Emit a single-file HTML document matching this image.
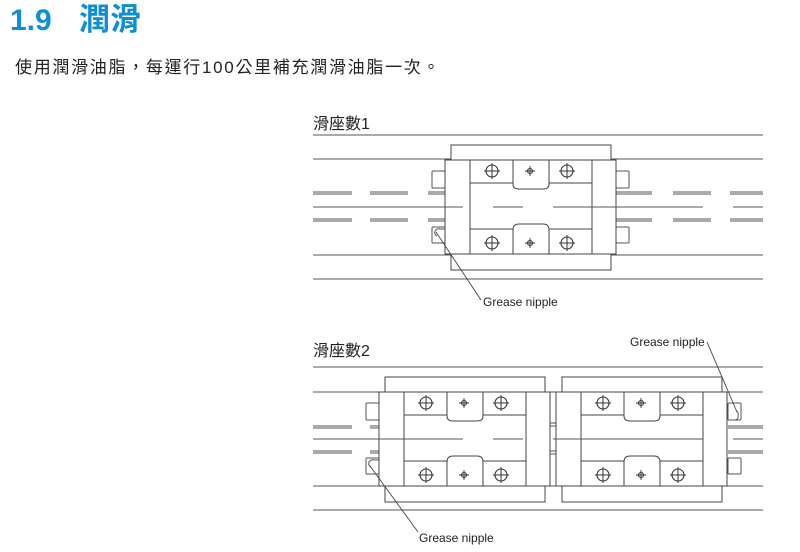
<!DOCTYPE html>
<html><head><meta charset="utf-8"><style>
html,body{margin:0;padding:0;background:#fff;width:800px;height:552px;overflow:hidden}
svg{display:block}
text{font-family:"Liberation Sans","Noto Sans CJK TC",sans-serif}
</style></head><body>
<svg width="800" height="552" viewBox="0 0 800 552" xmlns="http://www.w3.org/2000/svg">
<defs>
<g id="hole"><circle r="6" fill="none" stroke="#333" stroke-width="1.1"/><path d="M-8,0H8M0,-8V8" stroke="#333" stroke-width="1"/></g>
<g id="sh"><circle r="2.5" fill="none" stroke="#333" stroke-width="1.1"/><path d="M-5,0H5M0,-5V5" stroke="#333" stroke-width="0.9"/></g>
<g id="blk" fill="#fff" stroke="#444" stroke-width="1">
<rect x="6" y="-15" width="160" height="15"/>
<rect x="6" y="94" width="160" height="16"/>
<rect x="0" y="0" width="171" height="94"/>
<path d="M25,0V94M147,0V94M68,0V23M104,0V23M25,23H68M104,23H147M68,23V24Q68,29 74,29H98Q104,29 104,24V23" fill="none"/>
<path d="M68,94V69M104,94V69M25,69H68M104,69H147M68,69V70Q68,64 74,64H98Q104,64 104,70V69" fill="none"/>
<use href="#hole" x="47" y="11"/><use href="#sh" x="85" y="11"/><use href="#hole" x="122" y="11"/>
<use href="#hole" x="47" y="83"/><use href="#sh" x="85" y="83"/><use href="#hole" x="122" y="83"/>
</g>
</defs>
<text x="10" y="30" font-size="30" font-weight="bold" fill="#0f8fd2">1.9</text>
<text x="79" y="30" font-size="31" font-weight="bold" fill="#0f8fd2">潤滑</text>
<text x="15" y="73" font-size="17" fill="#222" letter-spacing="1.7">使用潤滑油脂，每運行100公里補充潤滑油脂一次。</text>

<text x="313" y="129" font-size="16" fill="#222">滑座數1</text>
<g stroke="#555" stroke-width="1" fill="none">
<path d="M313,135H763M313,159H763M313,255H763M313,279H763"/>
<path d="M313,192H352M370,192H408M428,192H445M616,192H652M673,192H711M730,192H763"/>
<path d="M313,194H352M370,194H408M428,194H445M616,194H652M673,194H711M730,194H763"/>
<path d="M313,219H352M370,219H408M428,219H445M616,219H652M673,219H711M730,219H763"/>
<path d="M313,221H352M370,221H408M428,221H445M616,221H652M673,221H711M730,221H763"/>
<rect x="432" y="171" width="13" height="17" rx="1"/>
<rect x="432" y="227" width="13" height="16" rx="1"/>
<rect x="616" y="171" width="13" height="17" rx="1"/>
<rect x="616" y="227" width="13" height="16" rx="1"/>
<path d="M435,231Q437,228 441,229H445M435,231Q434,235 437,236"/>
</g>
<use href="#blk" x="445" y="160"/>
<path d="M313,207H463M493,207H523M553,207H703M733,207H763" stroke="#555" stroke-width="1"/>
<path d="M436,232L481,300" stroke="#444" stroke-width="0.9"/>
<text x="483" y="306" font-size="12" fill="#222">Grease nipple</text>

<text x="313" y="356" font-size="16" fill="#222">滑座數2</text>
<g stroke="#555" stroke-width="1" fill="none">
<path d="M313,367H763M313,392H763M313,486H763M313,510H763"/>
<path d="M313,426H352M370,426H379M728,426H763"/>
<path d="M313,428H352M370,428H379M728,428H763"/>
<path d="M313,451H352M370,451H379M728,451H763"/>
<path d="M313,453H352M370,453H379M728,453H763"/>
<path d="M549,392V486M556,392V486M549,423H556M549,426H556M549,451H556M549,454H556"/>
<rect x="366" y="403" width="13" height="17" rx="1"/>
<rect x="366" y="458" width="13" height="16" rx="1"/>
<rect x="728" y="403" width="13" height="17" rx="1"/>
<rect x="728" y="458" width="13" height="16" rx="1"/>
<path d="M369,462Q371,459 375,460H379M369,462Q368,466 371,467"/>
<path d="M738,416Q739,419 735,420H728M738,416Q739,412 736,411"/>
</g>
<use href="#blk" x="379" y="392"/>
<use href="#blk" x="556" y="392"/>
<path d="M313,439H463M493,439H523M553,439H703M733,439H763" stroke="#555" stroke-width="1"/>
<path d="M370,466L418,532" stroke="#444" stroke-width="0.9"/>
<text x="419" y="542" font-size="12" fill="#222">Grease nipple</text>
<path d="M707,342L737,412" stroke="#444" stroke-width="0.9"/>
<text x="630" y="346" font-size="12" fill="#222">Grease nipple</text>
</svg>
</body></html>
